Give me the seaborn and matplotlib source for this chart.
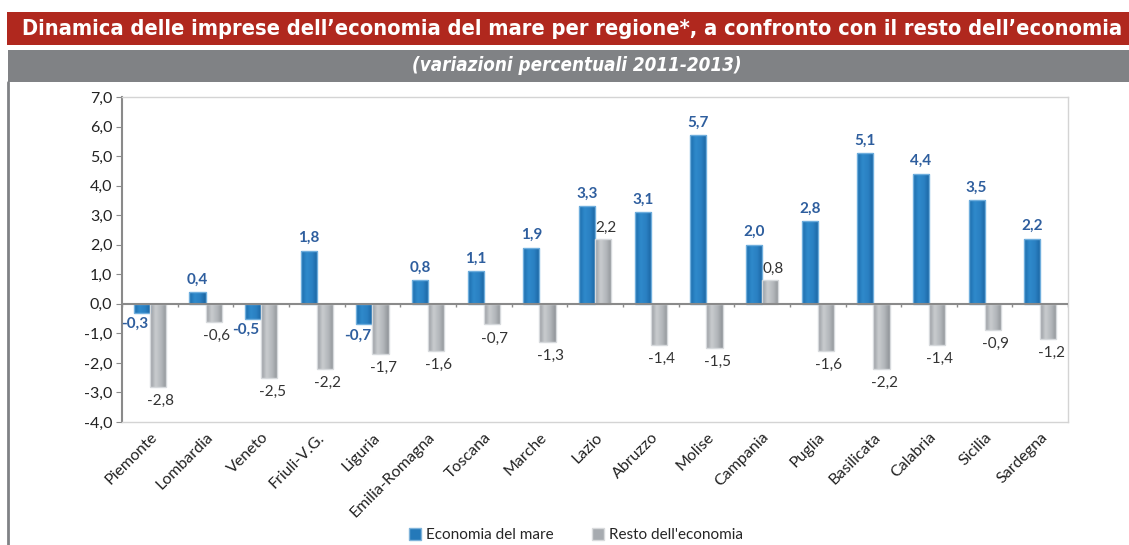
import matplotlib
matplotlib.use("Agg")
import matplotlib.pyplot as plt
import seaborn as sns
import pandas as pd
import numpy as np
from matplotlib.patches import Rectangle
from matplotlib.lines import Line2D
from matplotlib.colors import LinearSegmentedColormap

regioni = ["Piemonte", "Lombardia", "Veneto", "Friuli-V.G.", "Liguria",
           "Emilia-Romagna", "Toscana", "Marche", "Lazio", "Abruzzo",
           "Molise", "Campania", "Puglia", "Basilicata", "Calabria",
           "Sicilia", "Sardegna"]
mare = [-0.3, 0.4, -0.5, 1.8, -0.7, 0.8, 1.1, 1.9, 3.3, 3.1,
        5.7, 2.0, 2.8, 5.1, 4.4, 3.5, 2.2]
resto = [-2.8, -0.6, -2.5, -2.2, -1.7, -1.6, -0.7, -1.3, 2.2, -1.4,
         -1.5, 0.8, -1.6, -2.2, -1.4, -0.9, -1.2]
serie = ["Economia del mare", "Resto dell'economia"]
y_ticks = [-4, -3, -2, -1, 0, 1, 2, 3, 4, 5, 6, 7]

BLUE = "#2479B9"
GRAY = "#A7ABB0"
RED = "#B0281E"
BAND = "#808285"

df = pd.DataFrame({
    "Regione": regioni * 2,
    "Valore": mare + resto,
    "Serie": [serie[0]] * len(regioni) + [serie[1]] * len(regioni),
})

sns.set_style("white")
plt.rcParams["font.family"] = ["Lato", "DejaVu Sans"]

fig = plt.figure(figsize=(11.29, 5.45), dpi=100)

# -----------------------------
# Title bands
# -----------------------------
fig.patches.append(Rectangle((0.0062, 0.917), 1.0, 0.061, transform=fig.transFigure,
                             facecolor=RED, edgecolor="none", zorder=0))
fig.patches.append(Rectangle((0.007, 0.8495), 1.0, 0.0585, transform=fig.transFigure,
                             facecolor=BAND, edgecolor="none", zorder=0))
fig.lines.append(Line2D([0.0075, 0.0075], [0.0, 0.85], transform=fig.transFigure,
                        color=BAND, lw=2))
fig.text(0.507, 0.947, "Dinamica delle imprese dell\u2019economia del mare per regione*, a confronto con il resto dell\u2019economia",
         ha="center", va="center", color="white", fontsize=15.7, fontweight="bold",
         fontstretch="condensed", family=["DejaVu Sans"])
fig.text(0.511, 0.879, "(variazioni percentuali 2011-2013)", ha="center", va="center",
         color="white", fontsize=13.5, fontweight="bold", style="italic",
         fontstretch="condensed", family=["DejaVu Sans"])

# -----------------------------
# Bars
# -----------------------------
ax = fig.add_axes([0.1081, 0.2257, 0.838, 0.5963])
sns.barplot(data=df, x="Regione", y="Valore", hue="Serie", order=regioni,
            hue_order=serie, palette=[BLUE, GRAY], width=0.58, ax=ax,
            legend=False, saturation=1, edgecolor="none")

n = len(regioni)
bars = list(ax.patches[:2 * n])

# cylinder-like shading inside each bar
cmap_blue = LinearSegmentedColormap.from_list("b", ["#1C6CAB", "#2F8ACB", "#2A80C2", "#1A64A0"])
cmap_gray = LinearSegmentedColormap.from_list("g", ["#979BA0", "#C9CCCF", "#B3B7BB", "#8F9398"])
grad = np.linspace(0, 1, 64).reshape(1, -1)
for i, b in enumerate(bars):
    x0, w = b.get_x(), b.get_width()
    y0, h = b.get_y(), b.get_height()
    im = ax.imshow(grad, extent=[x0, x0 + w, min(y0, y0 + h), max(y0, y0 + h)],
                   aspect="auto", cmap=cmap_blue if i < n else cmap_gray,
                   zorder=2, interpolation="bicubic")
    im.set_clip_path(b)
    b.set_edgecolor("#6FAEDD" if i < n else "#D6D9DC")
    b.set_linewidth(1)
    b.set_zorder(2.1)
    b.set_facecolor("none")

ax.set_ylim(-4, 7)
ax.set_xlim(-0.5, len(regioni) - 0.5)
ax.set_yticks(y_ticks)
ax.set_yticklabels([f"{v:.1f}".replace(".", ",") for v in y_ticks], fontsize=11.5, color="#222222")
ax.set_xlabel("")
ax.set_ylabel("")
ax.set_xticks(range(len(regioni)))
ax.set_xticklabels(regioni, rotation=45, ha="right", rotation_mode="anchor",
                   fontsize=11.5, color="#222222")
ax.tick_params(axis="x", length=0, pad=6)
ax.tick_params(axis="y", length=4, color="#8A8A8A", direction="out", left=True, pad=3)

for s in ["top", "right", "bottom"]:
    ax.spines[s].set_color("#D4D4D4")
    ax.spines[s].set_linewidth(1)
ax.spines["left"].set_color("#8A8A8A")
ax.spines["left"].set_linewidth(1.5)

ax.axhline(0, color="#8A8A8A", lw=1.5, zorder=3)
bounds = np.arange(len(regioni) + 1) - 0.5
ax.vlines(bounds, -0.12, 0, color="#8A8A8A", lw=1, zorder=3)

# -----------------------------
# Value labels
# -----------------------------
for i, b in enumerate(bars):
    v = b.get_height()
    xc = b.get_x() + b.get_width() / 2
    txt = f"{v:.1f}".replace(".", ",")
    if i < n:
        if v >= 0:
            ax.annotate(txt, (xc, v), xytext=(0, 4), textcoords="offset points",
                        ha="center", va="bottom", fontsize=11, fontweight="bold",
                        color="#2E5E9E")
        else:
            ax.annotate(txt, (xc, v), xytext=(-5, -3), textcoords="offset points",
                        ha="center", va="top", fontsize=11, fontweight="bold",
                        color="#2E5E9E")
    else:
        if v >= 0:
            ax.annotate(txt, (xc, v), xytext=(2, 3), textcoords="offset points",
                        ha="center", va="bottom", fontsize=11, color="#333333")
        else:
            ax.annotate(txt, (xc, v), xytext=(2, -5), textcoords="offset points",
                        ha="center", va="top", fontsize=11, color="#333333")

# -----------------------------
# Legend
# -----------------------------
handles = [Rectangle((0, 0), 1, 1, facecolor=BLUE, edgecolor="#7FB3DA"),
           Rectangle((0, 0), 1, 1, facecolor=GRAY, edgecolor="#D8DADC")]
fig.legend(handles, serie, loc="center", bbox_to_anchor=(0.51, 0.018), ncol=2,
           frameon=False, fontsize=11, handlelength=0.8, handleheight=0.8,
           handletextpad=0.3, columnspacing=2.5)

fig.savefig("out.png", dpi=100)
